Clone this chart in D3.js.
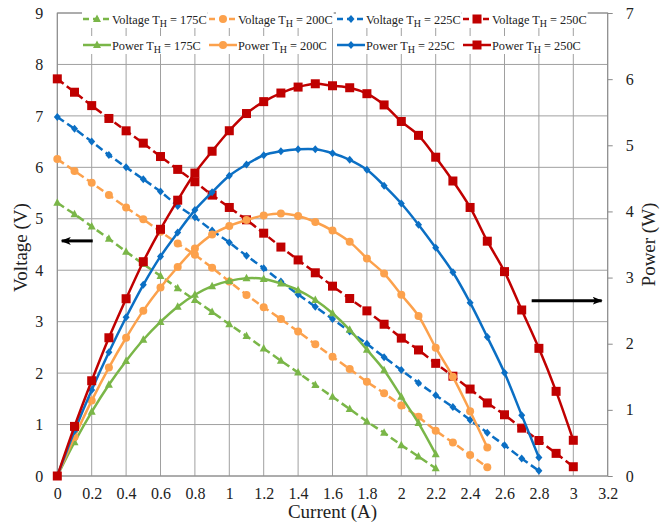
<!DOCTYPE html>
<html><head><meta charset="utf-8">
<script src="https://cdn.jsdelivr.net/npm/d3@7/dist/d3.min.js"></script>
<style>body{margin:0;background:#fff}svg{display:block}svg text{font-family:"Liberation Serif","Times New Roman",Times,serif !important;fill:#222}</style>
</head><body>
<script>
// ---- data ----
const temps = ["175C", "200C", "225C", "250C"];
const current = [0,0.1,0.2,0.3,0.4,0.5,0.6,0.7,0.8,0.9,1.0,1.1,1.2,1.3,1.4,1.5,1.6,1.7,1.8,1.9,2.0,2.1,2.2,2.3,2.4,2.5,2.6,2.7,2.8,2.9,3.0];
const voltage175 = [5.31,5.09,4.85,4.61,4.36,4.12,3.89,3.65,3.42,3.19,2.95,2.72,2.48,2.24,2.01,1.77,1.54,1.30,1.06,0.84,0.60,0.38,0.15];
const voltage200 = [6.16,5.93,5.70,5.46,5.22,4.99,4.75,4.52,4.30,4.05,3.78,3.52,3.28,3.05,2.81,2.56,2.32,2.08,1.83,1.61,1.37,1.15,0.88,0.65,0.41,0.17];
const voltage225 = [6.98,6.75,6.50,6.24,6.00,5.77,5.53,5.25,5.03,4.77,4.54,4.28,4.04,3.78,3.53,3.29,3.05,2.81,2.57,2.31,2.06,1.81,1.57,1.34,1.09,0.84,0.60,0.34,0.10];
const voltage250 = [7.72,7.46,7.20,6.95,6.71,6.47,6.21,5.96,5.72,5.46,5.22,4.98,4.72,4.45,4.20,3.95,3.69,3.45,3.21,2.95,2.68,2.45,2.19,1.94,1.69,1.42,1.19,0.93,0.69,0.44,0.18];
const power175 = [0,0.51,0.97,1.38,1.74,2.06,2.33,2.56,2.74,2.87,2.95,2.99,2.98,2.91,2.81,2.66,2.46,2.21,1.91,1.60,1.20,0.80,0.33];
const power200 = [0,0.59,1.14,1.64,2.09,2.50,2.85,3.16,3.44,3.65,3.78,3.87,3.94,3.97,3.93,3.84,3.71,3.54,3.29,3.06,2.74,2.42,1.94,1.50,0.98,0.43];
const power225 = [0,0.68,1.30,1.87,2.40,2.89,3.32,3.68,4.02,4.29,4.54,4.71,4.85,4.91,4.94,4.94,4.88,4.78,4.63,4.39,4.12,3.80,3.45,3.08,2.62,2.10,1.56,0.92,0.28];
const power250 = [0,0.75,1.44,2.09,2.68,3.24,3.73,4.17,4.58,4.91,5.22,5.48,5.66,5.79,5.88,5.93,5.90,5.87,5.78,5.61,5.36,5.15,4.82,4.46,4.06,3.55,3.09,2.51,1.93,1.28,0.54];
const xTickValues = [0,0.2,0.4,0.6,0.8,1,1.2,1.4,1.6,1.8,2,2.2,2.4,2.6,2.8,3,3.2];
const xTickLabels = ["0","0.2","0.4","0.6","0.8","1","1.2","1.4","1.6","1.8","2","2.2","2.4","2.6","2.8","3","3.2"];
const vTicks = [0,1,2,3,4,5,6,7,8,9];
const pTicks = [0,1,2,3,4,5,6,7];
// annotation arrows (data units): from -> to (head at "to")
const leftArrow = {from:[0.206,4.57], to:[0.026,4.57]};
const rightArrow = {from:[2.758,2.65], to:[3.165,2.65]};

// ---- style ----
const FONT = "'Liberation Serif','Times New Roman',Times,serif";
const colors = {"175C":"#7ab648","200C":"#fca14c","225C":"#0b6fc4","250C":"#c00000"};
const shapes = {"175C":"tri","200C":"circle","225C":"diamond","250C":"square"};

const W = 663, H = 527;
const L = 57.3, R = 607.7, T = 13, B = 476;
const svg = d3.select("body").append("svg").attr("width", W).attr("height", H).style("font-family", FONT);

const x = d3.scaleLinear().domain([0,3.2]).range([L,R]);
const yV = d3.scaleLinear().domain([0,9]).range([B,T]);
const yP = d3.scaleLinear().domain([0,7]).range([B,T]);

// gridlines
const grid = svg.append("g").attr("stroke","#a0a0a0").attr("stroke-width",1);
grid.selectAll(".vg").data(xTickValues).join("line")
  .attr("x1",d=>x(d)).attr("x2",d=>x(d)).attr("y1",T).attr("y2",B);
grid.selectAll(".hg").data(vTicks).join("line")
  .attr("x1",L).attr("x2",R).attr("y1",d=>yV(d)).attr("y2",d=>yV(d));
svg.append("rect").attr("x",L).attr("y",T).attr("width",R-L).attr("height",B-T)
  .attr("fill","none").attr("stroke","#8a8a8a").attr("stroke-width",1);

// axes
const fs = 16;
function styleAxis(g){
  g.attr("font-family", null).attr("font-size", null);
  g.select(".domain").remove();
  g.selectAll("text").attr("font-size",fs).style("font-family",FONT).attr("fill","#222");
}
const gx = svg.append("g").attr("transform",`translate(0,${B})`)
  .call(d3.axisBottom(x).tickValues(xTickValues).tickFormat((d,i)=>xTickLabels[i]).tickSize(0).tickPadding(12));
styleAxis(gx);

const gl = svg.append("g").attr("transform",`translate(${L},0)`)
  .call(d3.axisLeft(yV).tickValues(vTicks).tickFormat(d3.format("d")).tickSize(0).tickPadding(14));
styleAxis(gl);

const gr = svg.append("g").attr("transform",`translate(${R},0)`)
  .call(d3.axisRight(yP).tickValues(pTicks).tickFormat(d3.format("d")).tickSize(5).tickPadding(13));
styleAxis(gr);
gr.selectAll("line").attr("stroke","#8a8a8a");

// axis titles
svg.append("text").attr("x",(L+R)/2).attr("y",518).attr("text-anchor","middle").attr("font-size",19).text("Current (A)");
svg.append("text").attr("transform",`translate(27,${(T+B)/2+3}) rotate(-90)`).attr("text-anchor","middle").attr("font-size",19).text("Voltage (V)");
svg.append("text").attr("transform",`translate(655,${(T+B)/2}) rotate(-90)`).attr("text-anchor","middle").attr("font-size",19).text("Power (W)");

// marker drawing
function drawMarker(g, shape, color, cx, cy) {
  if (shape === "square") g.append("rect").attr("x",cx-4.5).attr("y",cy-4.5).attr("width",9).attr("height",9).attr("fill",color);
  else if (shape === "circle") g.append("circle").attr("cx",cx).attr("cy",cy).attr("r",4).attr("fill",color);
  else if (shape === "diamond") g.append("path").attr("d",`M${cx},${cy-4}L${cx+3.5},${cy}L${cx},${cy+4}L${cx-3.5},${cy}Z`).attr("fill",color);
  else g.append("path").attr("d",`M${cx},${cy-4.5}L${cx+4},${cy+3}L${cx-4},${cy+3}Z`).attr("fill",color);
}

const vSeries = [voltage175, voltage200, voltage225, voltage250];
const pSeries = [power175, power200, power225, power250];

const plot = svg.append("g");
vSeries.forEach((vals,k)=>{
  const t = temps[k], c = colors[t];
  const pts = vals.map((v,i)=>[current[i], v]);
  plot.append("path").datum(pts)
    .attr("d", d3.line().x(d=>x(d[0])).y(d=>yV(d[1])))
    .attr("fill","none").attr("stroke",c).attr("stroke-width",2.5).attr("stroke-dasharray","8,4");
  const mg = plot.append("g");
  pts.forEach(p=>drawMarker(mg, shapes[t], c, x(p[0]), yV(p[1])));
});
pSeries.forEach((vals,k)=>{
  const t = temps[k], c = colors[t];
  const pts = vals.map((v,i)=>[current[i], v]);
  plot.append("path").datum(pts)
    .attr("d", d3.line().curve(d3.curveCatmullRom.alpha(0.5)).x(d=>x(d[0])).y(d=>yP(d[1])))
    .attr("fill","none").attr("stroke",c).attr("stroke-width",2.5);
  const mg = plot.append("g");
  pts.forEach(p=>drawMarker(mg, shapes[t], c, x(p[0]), yP(p[1])));
});

// arrows
const defs = svg.append("defs");
defs.append("marker").attr("id","ah").attr("viewBox","0 0 10 8").attr("refX",9).attr("refY",4)
  .attr("markerWidth",10).attr("markerHeight",8).attr("markerUnits","userSpaceOnUse").attr("orient","auto")
  .append("path").attr("d","M0,0L10,4L0,8L2.5,4Z").attr("fill","#000");
svg.append("line").attr("x1",x(leftArrow.from[0])).attr("y1",yV(leftArrow.from[1]))
  .attr("x2",x(leftArrow.to[0])).attr("y2",yV(leftArrow.to[1]))
  .attr("stroke","#000").attr("stroke-width",3).attr("marker-end","url(#ah)");
svg.append("line").attr("x1",x(rightArrow.from[0])).attr("y1",yP(rightArrow.from[1]))
  .attr("x2",x(rightArrow.to[0])).attr("y2",yP(rightArrow.to[1]))
  .attr("stroke","#000").attr("stroke-width",3).attr("marker-end","url(#ah)");

// legend
const legCols = [83, 209, 337, 463];
const legRows = [19, 45];
const legend = svg.append("g");
[["Voltage", true], ["Power", false]].forEach(([label, dashed], r)=>{
  temps.forEach((t,k)=>{
    const g = legend.append("g");
    const x0 = legCols[k], yy = legRows[r];
    const bg = g.append("rect").attr("fill","#fff");
    g.append("line").attr("x1",x0).attr("x2",x0+28).attr("y1",yy).attr("y2",yy)
      .attr("stroke",colors[t]).attr("stroke-width",2.5).attr("stroke-dasharray",dashed?"6,4":null);
    drawMarker(g, shapes[t], colors[t], x0+14, yy);
    const tx = g.append("text").attr("x",x0+29).attr("y",yy+4.5).attr("font-size",12.3);
    tx.append("tspan").text(label + " T");
    tx.append("tspan").attr("font-size",10).attr("dy",3).text("H");
    tx.append("tspan").attr("dy",-3).text(" = " + t);
    const bb = tx.node().getBBox();
    bg.attr("x",x0-1).attr("y",yy-9).attr("width",bb.x+bb.width-x0+2).attr("height",18);
  });
});
</script>
</body></html>
